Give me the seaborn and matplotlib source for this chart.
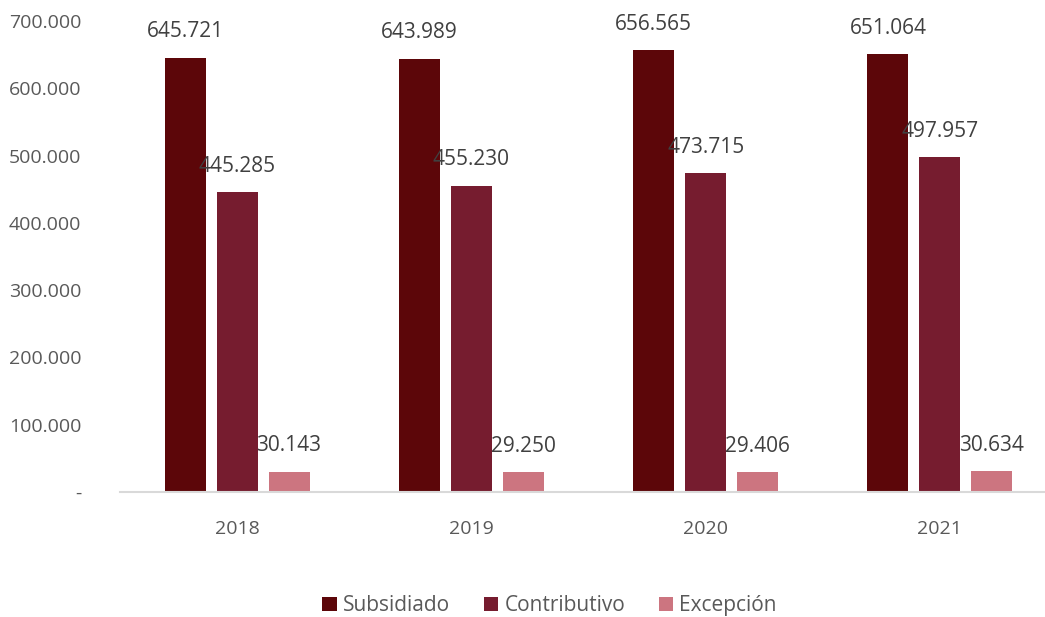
import matplotlib
matplotlib.use("Agg")
import matplotlib.pyplot as plt
import seaborn as sns
import pandas as pd
from matplotlib.ticker import FuncFormatter, MultipleLocator

years = ["2018", "2019", "2020", "2021"]
series_names = ["Subsidiado", "Contributivo", "Excepción"]
subsidiado = [645721, 643989, 656565, 651064]
contributivo = [445285, 455230, 473715, 497957]
excepcion = [30143, 29250, 29406, 30634]
colors = ["#5C0609", "#761C2F", "#CC7580"]

rows = []
for name, vals in zip(series_names, [subsidiado, contributivo, excepcion]):
    for y, v in zip(years, vals):
        rows.append({"year": y, "tipo": name, "value": v})
df = pd.DataFrame(rows)

sns.set_theme(style="white")
plt.rcParams["font.family"] = ["Open Sans", "DejaVu Sans"]

fig = plt.figure(figsize=(10.45, 6.17), dpi=100)
ax = fig.add_axes([120 / 1045, 125 / 617, 937 / 1045, 471 / 617])

sns.barplot(data=df, x="year", y="value", hue="tipo", palette=colors,
            width=0.665, gap=0.21, ax=ax, legend=True, saturation=1,
            linewidth=0)

def fmt_num(v):
    return f"{v:,.0f}".replace(",", ".")

for cont in ax.containers:
    ax.bar_label(cont, fmt=fmt_num, padding=11, fontsize=15, color="#404040")

ax.set_ylim(0, 700000)
ax.set_xlim(-0.5, 3.5)
ax.yaxis.set_major_locator(MultipleLocator(100000))
ax.yaxis.set_major_formatter(FuncFormatter(lambda v, p: "-" if v == 0 else fmt_num(v)))
ax.set_xlabel("")
ax.set_ylabel("")
for s in ["top", "right", "left"]:
    ax.spines[s].set_visible(False)
ax.spines["bottom"].set_color("#D9D9D9")
ax.spines["bottom"].set_linewidth(1.5)
ax.tick_params(axis="y", labelsize=14, labelcolor="#595959", length=0, pad=28)
ax.tick_params(axis="x", labelsize=14, labelcolor="#595959", length=0, pad=20)

handles, labels = ax.get_legend_handles_labels()
ax.legend_.remove()
fig.legend(handles, labels, loc="center", bbox_to_anchor=(0.526, 0.018),
           ncol=3, frameon=False, fontsize=15, labelcolor="#595959",
           handlelength=0.7, handleheight=0.7, handletextpad=0.3, columnspacing=1.6)

fig.savefig("out.png", dpi=100)
